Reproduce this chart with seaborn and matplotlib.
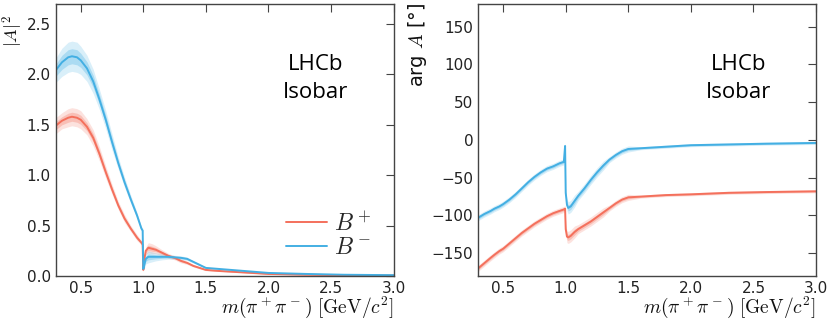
import matplotlib
matplotlib.use("Agg")
import matplotlib.pyplot as plt
import seaborn as sns
import pandas as pd
import numpy as np

mass = [0.30, 0.35, 0.40, 0.43, 0.47, 0.50, 0.55, 0.60, 0.65, 0.70, 0.75, 0.80,
        0.85, 0.90, 0.95, 0.985, 0.995, 1.00, 1.01, 1.02, 1.04, 1.07, 1.10, 1.15,
        1.20, 1.25, 1.30, 1.35, 1.40, 1.45, 1.50, 1.60, 1.80, 2.00, 2.30, 2.60, 3.00]

# |A|^2
mag_bp = [1.49, 1.54, 1.57, 1.58, 1.57, 1.55, 1.48, 1.37, 1.21, 1.03, 0.86, 0.70,
          0.57, 0.47, 0.38, 0.33, 0.31, 0.06, 0.18, 0.25, 0.28, 0.27, 0.26, 0.23,
          0.20, 0.18, 0.15, 0.13, 0.10, 0.08, 0.06, 0.05, 0.035, 0.02, 0.012, 0.007, 0.004]
mag_bm = [2.04, 2.12, 2.17, 2.18, 2.17, 2.14, 2.06, 1.93, 1.75, 1.55, 1.33, 1.12,
          0.93, 0.76, 0.60, 0.47, 0.45, 0.07, 0.12, 0.17, 0.19, 0.19, 0.19, 0.19,
          0.19, 0.185, 0.18, 0.17, 0.14, 0.11, 0.08, 0.07, 0.05, 0.03, 0.02, 0.012, 0.008]
mag_err_bp = [0.04, 0.04, 0.045, 0.045, 0.045, 0.045, 0.04, 0.04, 0.035, 0.03, 0.025, 0.02,
              0.02, 0.015, 0.015, 0.01, 0.01, 0.01, 0.015, 0.02, 0.025, 0.025, 0.02, 0.015,
              0.012, 0.01, 0.01, 0.008, 0.006, 0.005, 0.004, 0.003, 0.002, 0.002, 0.001, 0.001, 0.001]
mag_err_bm = [0.06, 0.07, 0.075, 0.075, 0.075, 0.07, 0.065, 0.06, 0.05, 0.045, 0.04, 0.03,
              0.025, 0.02, 0.015, 0.012, 0.012, 0.01, 0.02, 0.025, 0.03, 0.025, 0.02, 0.015,
              0.012, 0.01, 0.01, 0.008, 0.006, 0.005, 0.004, 0.003, 0.002, 0.002, 0.001, 0.001, 0.001]

# arg A [deg]
arg_bp = [-170, -163, -156, -152, -147, -144, -137, -130, -123, -117, -111, -106,
          -101, -97, -94, -92, -91, -118, -128, -129, -127, -122, -118, -113,
          -108, -102, -96, -90, -84, -79, -76, -75, -73, -72, -70, -69, -68]
arg_bm = [-103, -98, -94, -91, -88, -85, -79, -72, -64, -56, -49, -43,
          -38, -35, -31, -29, -8, -70, -86, -90, -88, -81, -74, -64,
          -53, -43, -34, -26, -20, -15, -12, -11, -9, -7, -6, -5, -4]
arg_err = [2, 2, 2, 2, 2, 2, 2, 2, 2, 2, 2, 2, 2, 2, 2, 2, 2, 3, 4, 4, 4, 4, 3, 3,
           3, 3, 3, 2, 2, 2, 2, 1, 1, 1, 1, 1, 1]

red = "#F4705C"
blue = "#43AFE3"

sns.set_style("white")
plt.rcParams.update({
    "mathtext.fontset": "cm",
    "xtick.direction": "in", "ytick.direction": "in",
    "xtick.top": True, "ytick.right": True,
    "xtick.major.size": 6, "ytick.major.size": 6,
    "xtick.labelsize": 11, "ytick.labelsize": 11,
    "xtick.color": "#444444", "ytick.color": "#444444",
    "xtick.labelcolor": "#222222", "ytick.labelcolor": "#222222",
    "axes.labelcolor": "#111111",
    "axes.edgecolor": "#444444", "axes.linewidth": 1.0,
})
plt.rcParams["font.family"] = ["DejaVu Sans"]

df = pd.DataFrame({"m": mass, "mag_bp": mag_bp, "mag_bm": mag_bm,
                   "err_bp": mag_err_bp, "err_bm": mag_err_bm,
                   "arg_bp": arg_bp, "arg_bm": arg_bm, "arg_err": arg_err})

fig, (ax1, ax2) = plt.subplots(1, 2, figsize=(8.31, 3.22), dpi=100)
fig.subplots_adjust(left=0.067, right=0.982, top=0.988, bottom=0.143, wspace=0.25)


def band(ax, y, err, color):
    lo1 = df[y] - df[err]
    hi1 = df[y] + df[err]
    lo2 = df[y] - 2 * df[err]
    hi2 = df[y] + 2 * df[err]
    ax.fill_between(df["m"], lo2, hi2, color=color, alpha=0.2, lw=0)
    ax.fill_between(df["m"], lo1, hi1, color=color, alpha=0.3, lw=0)


band(ax1, "mag_bp", "err_bp", red)
band(ax1, "mag_bm", "err_bm", blue)
sns.lineplot(data=df, x="m", y="mag_bp", ax=ax1, color=red, lw=1.4, label="$B^+$")
sns.lineplot(data=df, x="m", y="mag_bm", ax=ax1, color=blue, lw=1.4, label="$B^-$")
ax1.set_xlim(0.3, 3.0)
ax1.set_ylim(0, 2.7)
ax1.set_yticks([0, 0.5, 1.0, 1.5, 2.0, 2.5])
ax1.set_ylabel(r"$|A|^2$", fontsize=13)
ax1.yaxis.set_label_coords(-0.092, 0.9)
leg = ax1.legend(loc="lower right", bbox_to_anchor=(0.985, 0.0), frameon=False,
                 fontsize=17, handlelength=1.75, handletextpad=0.3,
                 labelspacing=0.0, borderpad=0.2)

band(ax2, "arg_bp", "arg_err", red)
band(ax2, "arg_bm", "arg_err", blue)
sns.lineplot(data=df, x="m", y="arg_bp", ax=ax2, color=red, lw=1.4)
sns.lineplot(data=df, x="m", y="arg_bm", ax=ax2, color=blue, lw=1.4)
ax2.set_xlim(0.3, 3.0)
ax2.set_ylim(-180, 180)
ax2.set_yticks([-150, -100, -50, 0, 50, 100, 150])
ax2.set_ylabel(r"arg $A$ [°]", fontsize=14)
ax2.yaxis.set_label_coords(-0.145, 0.85)

for ax in (ax1, ax2):
    ax.set_xticks([0.5, 1.0, 1.5, 2.0, 2.5, 3.0])
    ax.set_xlabel(r"$m(\pi^+\pi^-)\ [\mathrm{GeV}/c^2]$", fontsize=14)
    ax.xaxis.set_label_coords(1.0, -0.07)
    ax.xaxis.label.set_horizontalalignment("right")
    ax.xaxis.label.set_verticalalignment("top")
    ax.text(0.77, 0.725, "LHCb\nIsobar", transform=ax.transAxes, ha="center",
            va="center", fontsize=16, family=["Open Sans", "DejaVu Sans"],
            weight="medium", color="black", linespacing=1.45)
    for s in ax.spines.values():
        s.set_visible(True)

fig.savefig("out.png", dpi=100)
